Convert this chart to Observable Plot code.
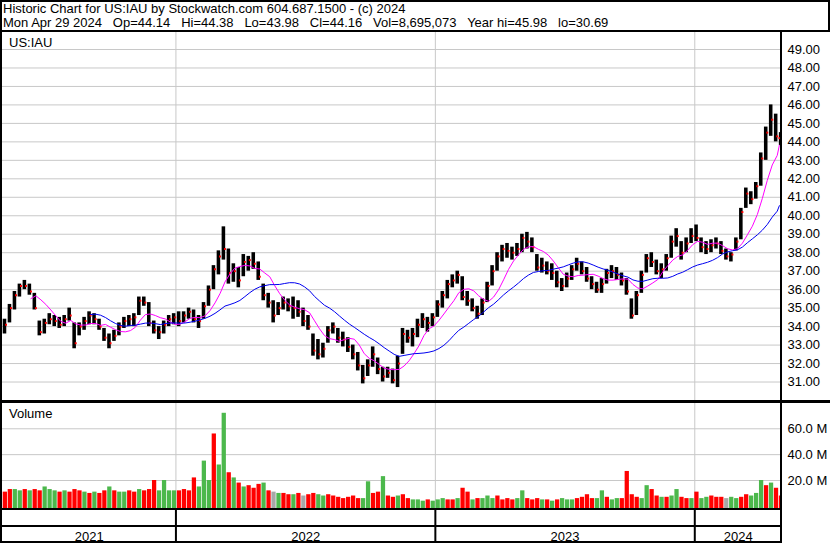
<!DOCTYPE html>
<html><head><meta charset="utf-8">
<script src="https://cdn.jsdelivr.net/npm/d3@7"></script>
<script src="https://cdn.jsdelivr.net/npm/@observablehq/plot@0.6"></script>
<style>
body{margin:0;background:#fff;font-family:"Liberation Sans",Arial,sans-serif;}
#root{position:relative;width:830px;height:543px;overflow:hidden;background:#fff}
.ln{position:absolute;background:#000}
.txt{position:absolute;font-size:13px;white-space:pre;color:#000;line-height:13px}
.pl{position:absolute;left:0}
</style></head><body><div id="root"></div>
<script>
// ---------------- data (weekly) ----------------
const titleText = "Historic Chart for US:IAU by Stockwatch.com 604.687.1500 - (c) 2024";
const infoText = "Mon Apr 29 2024   Op=44.14   Hi=44.38   Lo=43.98   Cl=44.16   Vol=8,695,073   Year hi=45.98   lo=30.69";
const symbolLabel = "US:IAU";
const volumeLabel = "Volume";
const firstWeek = "2021-05-03";      // Monday of first weekly bar
const lastTradingDay = "2024-04-29";
const rangeStart = "2021-05-02", rangeEnd = "2024-05-02";

const priceHigh = [
34.4,35.2,35.9,36.3,36.5,36.3,35.8,34.3,34.4,34.7,
34.6,34.5,34.6,35.0,34.2,34.2,34.5,34.8,34.7,34.4,
33.9,33.6,33.8,34.2,34.5,34.6,34.7,35.6,35.6,35.3,
34.3,34.0,34.3,34.6,34.7,34.8,34.8,35.0,34.9,34.6,
35.3,36.2,37.3,38.1,39.4,38.2,37.4,37.2,37.9,37.8,
38.0,37.5,36.3,35.8,35.4,35.3,35.6,35.5,35.6,35.4,
35.0,34.6,33.6,33.3,33.1,34.0,34.2,33.9,33.7,33.4,
33.0,32.6,31.9,32.2,32.9,32.3,31.8,31.8,31.7,32.4,
33.9,33.8,33.9,34.4,34.7,34.5,34.7,35.4,35.9,36.5,
36.8,37.0,36.7,35.9,35.5,35.1,35.5,36.4,37.3,38.0,
38.4,38.5,38.3,38.5,39.0,39.1,38.8,37.9,37.7,37.5,
37.4,37.0,36.6,36.9,37.3,37.7,37.5,37.2,36.7,36.4,
36.6,37.1,37.3,37.2,36.9,36.6,35.5,35.9,37.0,37.9,
38.0,37.6,37.4,37.9,38.9,39.3,38.6,38.8,39.3,39.5,
38.8,38.6,38.7,38.8,38.6,38.2,38.0,38.8,40.4,41.5,
41.3,41.8,43.4,44.8,46.0,45.5,44.5];
const priceLow = [
33.6,34.2,34.9,35.6,36.0,35.7,34.9,33.5,33.6,34.1,
34.0,33.9,34.0,34.3,32.8,33.5,33.8,34.1,34.1,33.8,
33.2,32.8,33.2,33.5,33.9,34.0,34.0,34.6,35.1,34.0,
33.6,33.3,33.6,34.0,34.1,34.0,34.2,34.4,34.2,33.9,
34.4,35.1,36.0,36.8,37.6,36.3,36.4,36.1,36.7,37.0,
37.1,36.5,35.4,35.0,34.2,34.6,34.9,34.8,34.4,34.5,
34.0,33.8,32.4,32.2,32.3,33.1,33.6,33.1,32.9,32.6,
32.2,31.6,30.9,31.3,31.8,31.4,31.0,31.2,30.9,30.7,
32.5,33.1,32.9,33.4,33.9,33.7,34.0,34.5,35.0,35.5,
36.1,36.3,35.4,35.1,34.8,34.4,34.6,35.3,36.2,37.0,
37.5,37.7,37.6,37.8,38.0,38.2,38.0,37.0,36.9,36.8,
36.5,36.1,35.9,36.1,36.5,37.0,36.8,36.4,36.0,35.8,
35.8,36.3,36.6,36.5,36.2,35.7,34.4,34.6,35.8,36.9,
37.2,36.8,36.6,37.0,37.7,38.3,37.6,38.0,38.5,38.6,
38.0,37.9,38.0,38.2,37.9,37.6,37.5,38.1,38.7,40.4,
40.6,40.9,41.6,43.0,44.3,44.0,43.8];
const priceClose = [
34.1,35.0,35.7,36.2,36.2,35.9,35.0,33.7,34.2,34.4,
34.3,34.1,34.4,34.6,33.1,34.0,34.3,34.6,34.4,34.0,
33.4,33.1,33.5,34.0,34.3,34.4,34.5,35.4,35.3,34.2,
33.8,33.7,34.1,34.4,34.5,34.3,34.6,34.8,34.4,34.3,
35.1,36.0,37.1,37.8,38.2,36.9,37.0,36.5,37.5,37.6,
37.4,36.7,35.7,35.3,34.6,35.0,35.3,35.1,35.0,34.8,
34.3,34.0,32.7,32.5,32.8,33.8,34.0,33.4,33.3,32.9,
32.5,31.9,31.2,31.9,32.5,31.7,31.3,31.5,31.1,32.0,
33.6,33.4,33.6,34.1,34.4,34.2,34.5,35.2,35.7,36.3,
36.5,36.8,35.6,35.4,35.0,34.7,35.3,36.2,37.0,37.8,
38.2,38.1,38.0,38.2,38.8,38.6,38.3,37.2,37.3,37.0,
36.9,36.4,36.2,36.6,37.1,37.4,37.0,36.6,36.3,36.0,
36.3,36.9,37.0,36.8,36.5,35.9,34.6,35.7,36.8,37.7,
37.5,37.0,37.1,37.7,38.6,38.9,38.0,38.5,38.9,38.8,
38.3,38.2,38.4,38.5,38.1,37.8,37.9,38.6,40.2,41.2,
40.9,41.6,43.1,44.5,45.2,44.3,44.2];
// volume in millions of shares
const volumeM = [
11,13,13,12,13,12,13,12,15,13,
12,11,12,11,13,12,11,10,11,10,
12,15,12,11,11,12,11,13,12,13,
20,12,20,12,12,12,13,12,22,15,
35,20,56,32,72,26,22,18,15,16,
14,17,18,12,11,10,10,9,9,10,
8,9,10,9,8,9,8,7,6,7,
8,6,6,19,10,11,23,8,7,8,
9,6,5,5,4,5,4,5,6,5,
5,6,14,11,5,6,6,8,6,8,
5,6,5,6,12,6,5,6,5,5,
4,5,6,5,5,6,7,9,6,6,
12,7,5,6,6,27,9,7,6,16,
13,8,7,7,8,13,7,6,6,11,
6,7,8,7,7,6,7,6,7,9,
8,10,20,16,18,14,8];
// bar colour: g = up, r = down, n = unchanged
const volumeDir =
"rrggrgrrgg"+"grgrrrgrgr"+"rgrggrrgrr"+"rggggrrrrg"+"ggrggrgrgr"+
"rrgrngrrgr"+"nrrggrrrrr"+"rrggrrgrrg"+"rrgggrgggr"+"rgrrgrgggr"+
"rrrggrrrgr"+"grgggrrrrg"+"grggrrrrgg"+"rrgrggrrgr"+"ggrrrnggrr"+"gggrgrr";

const priceTicks = [31,32,33,34,35,36,37,38,39,40,41,42,43,44,45,46,47,48,49];
const volumeTicks = [20,40,60];
const yearLabels = ["2021","2022","2023","2024"];
const maShort = 6, maLong = 18;   // weeks (~30 and ~90 trading days)

// ---------------- build ----------------
const root = document.getElementById("root");
const parse = s => new Date(s + "T00:00:00Z");
const x0 = parse(rangeStart), x1 = parse(rangeEnd), lastDay = parse(lastTradingDay);
const xDomain = [x0, x1];
const clampD = d => (d > x1 ? x1 : d);
const weeks = priceClose.map((c, i) => {
  const mon = d3.utcDay.offset(parse(firstWeek), 7 * i);
  const fri = d3.utcDay.offset(mon, 4);
  return {
    start: mon,
    end: clampD(d3.utcDay.offset(mon, 5)),
    vend: clampD(d3.utcDay.offset(mon, 6)),
    cdate: fri > lastDay ? lastDay : fri,
    high: priceHigh[i], low: priceLow[i], close: c,
    vol: volumeM[i], dir: volumeDir[i]
  };
});
const yearStarts = yearLabels.slice(1).map(y => parse(y + "-01-01"));
const yearSegs = yearLabels.map(y => {
  const a = parse(y + "-01-01"), b = parse((+y + 1) + "-01-01");
  const s = a < x0 ? x0 : a, e = b > x1 ? x1 : b;
  return {label: y, mid: new Date((+s + +e) / 2)};
});
const dirColor = {g: "#4cb84c", r: "#ff0000", n: "#a8a8a8"};
const W = 830, mL = 2, mR = 49;
const font = {fontFamily: '"Liberation Sans", Arial, sans-serif', fontSize: "13px", color: "#000", background: "transparent", overflow: "visible"};

function place(el, top) { el.classList.add("pl"); el.style.top = top + "px"; root.appendChild(el); }

// price panel
const price = Plot.plot({
  width: W, height: 368, marginLeft: mL, marginRight: mR, marginTop: 0, marginBottom: 0,
  style: font,
  x: {type: "utc", domain: xDomain, axis: null},
  y: {domain: [30.0, 49.92], axis: "right", ticks: priceTicks, tickFormat: d => d.toFixed(2),
      tickSize: 0, tickPadding: 6, label: null},
  marks: [
    Plot.ruleY(priceTicks, {stroke: "#c8c8c8", strokeOpacity: 1}),
    Plot.ruleX(yearStarts, {stroke: "#c8c8c8", strokeOpacity: 1}),
    Plot.rect(weeks, {x1: "start", x2: "end", y1: "low", y2: "high", fill: "#000"}),
    Plot.dot(weeks, {x: "cdate", y: "close", symbol: "square", r: 1.1, fill: "#ff0000", stroke: null}),
    Plot.lineY(weeks, Plot.windowY({k: maShort, anchor: "end", strict: true},
      {x: "cdate", y: "close", stroke: "#ff00ff", strokeWidth: 1})),
    Plot.lineY(weeks, Plot.windowY({k: maLong, anchor: "end", strict: true},
      {x: "cdate", y: "close", stroke: "#0000f0", strokeWidth: 1}))
  ]
});
place(price, 32);

// volume panel
const vMin = -1.66, vMax = 79.57;
const vol = Plot.plot({
  width: W, height: 105, marginLeft: mL, marginRight: mR, marginTop: 0, marginBottom: 0,
  style: font,
  x: {type: "utc", domain: xDomain, axis: null},
  y: {domain: [vMin, vMax], axis: "right", ticks: volumeTicks, tickFormat: d => d.toFixed(1) + " M",
      tickSize: 0, tickPadding: 6, label: null},
  marks: [
    Plot.ruleY(volumeTicks, {stroke: "#c8c8c8", strokeOpacity: 1}),
    Plot.ruleX(yearStarts, {stroke: "#c8c8c8", strokeOpacity: 1}),
    Plot.rect(weeks, {x1: "start", x2: "vend", y1: () => vMin, y2: "vol", fill: d => dirColor[d.dir]})
  ]
});
place(vol, 403);

// date strip
const strip = Plot.plot({
  width: W, height: 33, marginLeft: mL, marginRight: mR, marginTop: 0, marginBottom: 0,
  style: font,
  x: {type: "utc", domain: xDomain, axis: null},
  marks: [
    Plot.ruleX(yearStarts, {stroke: "#000", strokeWidth: 2}),
    Plot.text(yearSegs, {x: "mid", text: "label", frameAnchor: "bottom", lineAnchor: "bottom", dy: -3, fill: "#000", fontSize: 13})
  ]
});
place(strip, 510);

// text
function txt(s, left, top) { const d = document.createElement("div"); d.className = "txt"; d.textContent = s; d.style.left = left + "px"; d.style.top = top + "px"; root.appendChild(d); }
txt(titleText, 3, 2);
txt(infoText, 3, 16);
txt(symbolLabel, 9, 36);
txt(volumeLabel, 9, 407);

// frame lines
function ln(l, t, w, h) { const d = document.createElement("div"); d.className = "ln"; Object.assign(d.style, {left: l + "px", top: t + "px", width: w + "px", height: h + "px"}); root.appendChild(d); }
ln(0, 0, 830, 2);      // top
ln(0, 0, 2, 543);      // left
ln(828, 0, 2, 32);     // right (header)
ln(0, 30, 830, 2);     // header separator
ln(780, 30, 2, 513);   // axis separator
ln(0, 400, 830, 3);    // price / volume separator
ln(0, 508, 782, 2);    // volume bottom
ln(0, 525, 782, 2);    // date row top
ln(0, 541, 782, 2);    // bottom
</script></body></html>
